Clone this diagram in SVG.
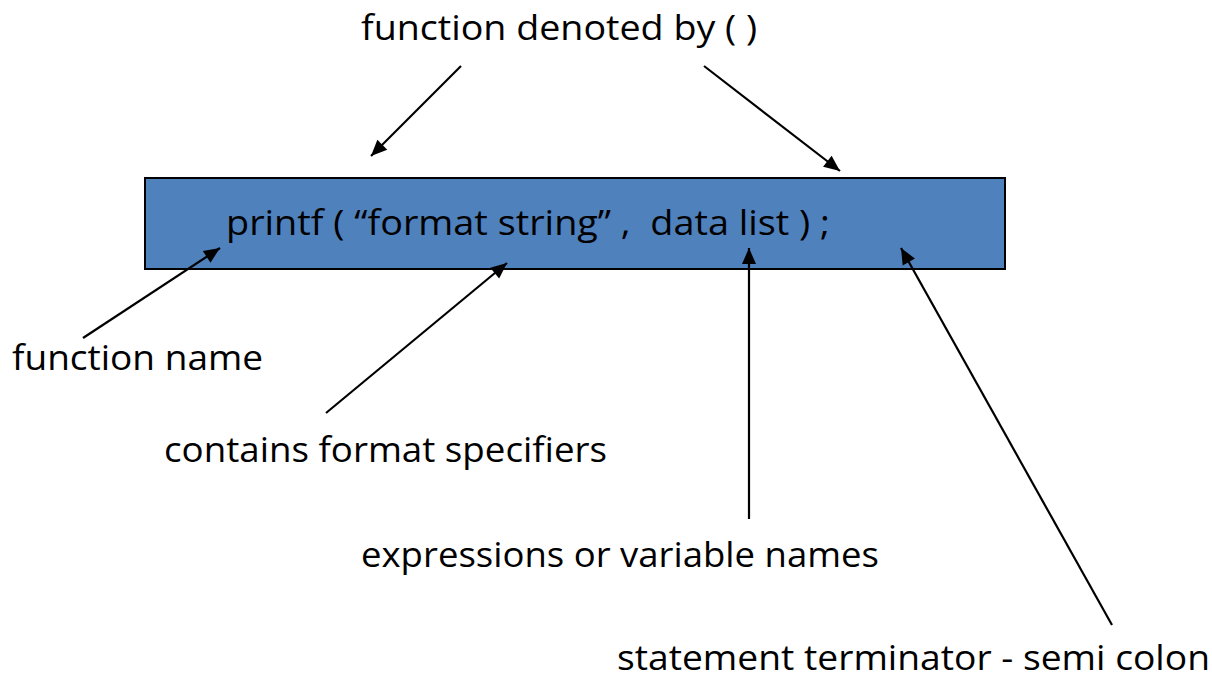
<svg xmlns="http://www.w3.org/2000/svg" width="1212" height="679" viewBox="0 0 1212 679">
<defs>
<style>
.lbl{font-family:"Open Sans","Liberation Sans",sans-serif;font-size:35px;fill:#000}
.code{font-family:"Open Sans","Liberation Sans",sans-serif;font-size:35px;fill:#000}
.conn line{stroke:#000;stroke-width:2.2;fill:none}
</style>
<marker id="ah" markerUnits="userSpaceOnUse" markerWidth="20" markerHeight="20" viewBox="0 0 20 20" refX="18" refY="10" orient="auto">
<path d="M2,3 L18,10 L2,17 Z" fill="#000"/>
</marker>
</defs>
<rect width="1212" height="679" fill="#fff"/>
<g id="statement">
<rect x="145" y="178" width="860" height="91" fill="#4F81BD" stroke="#000" stroke-width="2"/>
<text class="code" x="226" y="235" textLength="604" lengthAdjust="spacingAndGlyphs">printf ( “format string” ,&#160; data list ) ;</text>
</g>
<g id="label-function-denoted">
<text class="lbl" x="361" y="40" textLength="396" lengthAdjust="spacingAndGlyphs">function denoted by ( )</text>
</g>
<g id="label-function-name">
<text class="lbl" x="12" y="370" textLength="251" lengthAdjust="spacingAndGlyphs">function name</text>
</g>
<g id="label-format-specifiers">
<text class="lbl" x="164" y="462" textLength="443" lengthAdjust="spacingAndGlyphs">contains format specifiers</text>
</g>
<g id="label-expressions">
<text class="lbl" x="361" y="567" textLength="518" lengthAdjust="spacingAndGlyphs">expressions or variable names</text>
</g>
<g id="label-terminator">
<text class="lbl" x="617" y="670" textLength="593" lengthAdjust="spacingAndGlyphs">statement terminator - semi colon</text>
</g>
<g id="connectors" class="conn">
<line x1="461" y1="66" x2="371" y2="156" marker-end="url(#ah)"/>
<line x1="704" y1="66" x2="840" y2="171" marker-end="url(#ah)"/>
<line x1="83" y1="338" x2="220" y2="248" marker-end="url(#ah)"/>
<line x1="326" y1="413" x2="507" y2="263" marker-end="url(#ah)"/>
<line x1="749" y1="519" x2="749" y2="248" marker-end="url(#ah)"/>
<line x1="1112" y1="625" x2="901" y2="248" marker-end="url(#ah)"/>
</g>
</svg>
